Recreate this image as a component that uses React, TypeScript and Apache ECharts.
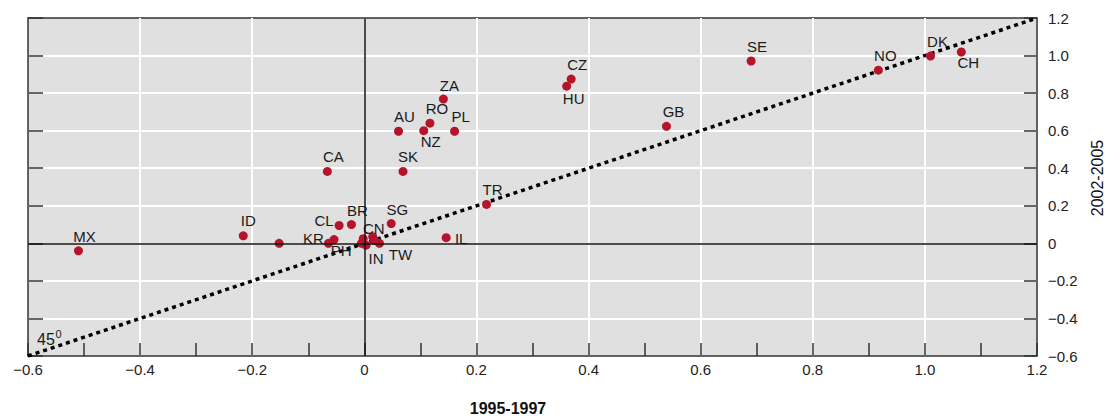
import React, { useEffect, useRef } from "react";
import * as echarts from "echarts";

// Country codes, values for 1995-1997 (x) and 2002-2005 (y)
const codes = ["MX", "ID", "", "KR", "PH", "CL", "BR", "SG", "CN", "IN", "TW", "", "", "", "IL", "TR", "CA", "SK", "AU", "NZ", "RO", "ZA", "PL", "CZ", "HU", "GB", "SE", "NO", "DK", "CH"];
const x9597 = [-0.51, -0.216, -0.152, -0.064, -0.054, -0.045, -0.023, 0.048, 0.015, 0.003, 0.027, -0.005, -0.002, 0.018, 0.146, 0.218, -0.066, 0.069, 0.061, 0.106, 0.117, 0.141, 0.161, 0.369, 0.361, 0.539, 0.69, 0.917, 1.01, 1.065];
const y0205 = [-0.04, 0.04, 0.0, 0.0, 0.02, 0.095, 0.1, 0.105, 0.035, -0.01, 0.0, 0.0, 0.025, 0.015, 0.03, 0.207, 0.383, 0.383, 0.597, 0.6, 0.64, 0.768, 0.597, 0.875, 0.837, 0.623, 0.971, 0.922, 0.997, 1.019];
// label offsets (px) relative to each dot
const labelOffsets: number[][] = [[6, -14], [5, -15], [0, 0], [-15, -5], [7, 11], [-15, -5], [6, -14], [6, -14], [1, -8], [10, 13], [21, 11], [0, 0], [0, 0], [0, 0], [15, 1], [6, -15], [6, -15], [5, -15], [6, -15], [7, 11], [7, -15], [6, -14], [6, -15], [6, -15], [7, 12], [7, -15], [6, -15], [7, -15], [7, -15], [7, 11]];
const diagonal = [[-0.6, -0.6], [1.2, 1.2]];
const axisMin = -0.6;
const axisMax = 1.2;
const axisStep = 0.2;

const fmt = (v: number) => {
  if (Math.abs(v) < 1e-9) return "0";
  return (v < 0 ? "\u2212" : "") + Math.abs(v).toFixed(1);
};

export default function App() {
  const ref = useRef<HTMLDivElement>(null);
  useEffect(() => {
    document.body.style.margin = "0";
    const chart = echarts.init(ref.current!, null, { renderer: "svg" });
    const font = "'Liberation Sans', Arial, Helvetica, sans-serif";
    const points = codes.map((c, i) => ({
      name: c,
      value: [x9597[i], y0205[i]],
      label: { offset: labelOffsets[i] },
    }));
    chart.setOption({
      animation: false,
      textStyle: { fontFamily: font },
      grid: {
        left: 28,
        right: 69,
        top: 18,
        bottom: 60,
        show: true,
        backgroundColor: "#e0e0e0",
        borderColor: "#333",
        borderWidth: 1.5,
      },
      xAxis: {
        type: "value",
        min: axisMin,
        max: axisMax,
        interval: axisStep,
        position: "bottom",
        axisLine: { show: false, onZero: false },
        axisTick: { show: true, inside: true, length: 13, lineStyle: { color: "#333", width: 1.5 } },
        minorTick: { show: true, splitNumber: 2, length: 13, lineStyle: { color: "#333", width: 1.5 } },
        axisLabel: { margin: 6, fontSize: 15, color: "#222", fontFamily: font, formatter: fmt },
        splitLine: { show: true, showMinLine: false, showMaxLine: false, lineStyle: { color: "#ffffff", width: 2 } },
      },
      yAxis: [
        {
          type: "value",
          min: axisMin,
          max: axisMax,
          interval: axisStep,
          position: "right",
          axisLine: { show: false, onZero: false },
          axisTick: { show: true, inside: true, length: 13, lineStyle: { color: "#333", width: 1.5 } },
          axisLabel: { margin: 11, fontSize: 15, color: "#222", fontFamily: font, formatter: fmt },
          splitLine: { show: true, showMinLine: false, showMaxLine: false, lineStyle: { color: "#ffffff", width: 2 } },
        },
        {
          type: "value",
          min: axisMin,
          max: axisMax,
          interval: axisStep,
          position: "left",
          axisLine: { show: false, onZero: false },
          axisTick: { show: true, inside: true, length: 15, lineStyle: { color: "#333", width: 1.5 } },
          axisLabel: { show: false },
          splitLine: { show: false },
        },
      ],
      series: [
        {
          type: "scatter",
          data: [],
          silent: true,
          z: 1,
          markLine: {
            silent: true,
            symbol: ["none", "none"],
            label: { show: false },
            lineStyle: { color: "#111", width: 1.5, type: "solid" },
            data: [{ xAxis: 0 }, { yAxis: 0 }],
          },
        },
        {
          type: "line",
          data: diagonal,
          showSymbol: false,
          symbol: "none",
          z: 2,
          lineStyle: { color: "#000", width: 3.5, type: [4, 4] },
        },
        {
          type: "scatter",
          data: points,
          symbolSize: 9,
          z: 3,
          itemStyle: { color: "#b5142b", opacity: 1 },
          label: {
            show: true,
            position: "inside",
            formatter: (p: any) => p.name,
            fontSize: 15,
            color: "#1a1a1a",
            fontFamily: font,
          },
        },
      ],
      graphic: [
        { type: "text", x: 37, y: 331, style: { text: "45", fill: "#1a1a1a", font: "16px " + font } },
        { type: "text", x: 55.5, y: 328, style: { text: "0", fill: "#1a1a1a", font: "11px " + font } },
        {
          type: "text",
          x: 508,
          y: 408,
          style: { text: "1995-1997", fill: "#111", font: "bold 16px " + font, textAlign: "center", textVerticalAlign: "middle" },
        },
        {
          type: "text",
          x: 1097,
          y: 178,
          rotation: Math.PI / 2,
          style: { text: "2002-2005", fill: "#111", font: "16px " + font, textAlign: "center", textVerticalAlign: "middle" },
        },
      ],
    });
    return () => chart.dispose();
  }, []);
  return <div ref={ref} style={{ width: 1106, height: 416 }} />;
}
